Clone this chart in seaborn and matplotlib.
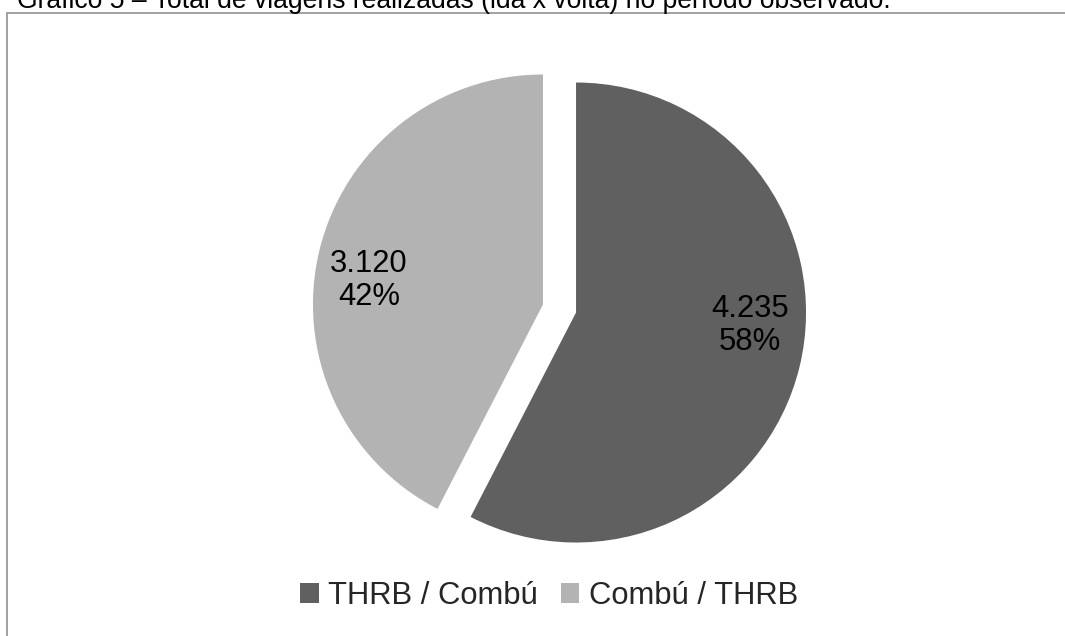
import matplotlib
matplotlib.use("Agg")
import matplotlib.pyplot as plt
from matplotlib.patches import Patch, Rectangle
import seaborn as sns

# Data
categories = ["THRB / Combú", "Combú / THRB"]
trips = [4235, 3120]
slice_colors = ["#606060", "#b3b3b3"]
title_text = "Gráfico 5 – Total de viagens realizadas (ida x volta) no período observado."

sns.set_theme(style="white")
plt.rcParams["font.family"] = ["Liberation Sans", "DejaVu Sans"]

W, H = 1065, 636
fig = plt.figure(figsize=(W / 100, H / 100), dpi=100)
fig.patch.set_facecolor("white")

# Chart frame (open towards the right and bottom edges)
frame = Rectangle((7 / W, -0.2), 1.2, (H - 13) / H + 0.2, transform=fig.transFigure,
                  fill=False, edgecolor="#9a9a9a", linewidth=1.3, zorder=0)
fig.patches.append(frame)

# Caption above the frame
fig.text(17 / W, (H - 8.5) / H, title_text, fontsize=19.1, color="black",
         ha="left", va="baseline")

# Pie axes: radius 1 maps to 230 px, centred at (559.5, 308.5)
R = 230
cx, cy = 559.5, H - 308.5
s = 1.4
ax = fig.add_axes([(cx - R * s) / W, (cy - R * s) / H, 2 * R * s / W, 2 * R * s / H])

palette = sns.color_palette(slice_colors)
wedges, _ = ax.pie(trips, colors=palette, startangle=90, counterclock=False,
                   explode=[0.074, 0.074], radius=1.0,
                   wedgeprops=dict(linewidth=0))
ax.set_xlim(-s, s)
ax.set_ylim(-s, s)
ax.set_aspect("equal")
ax.axis("off")

total = sum(trips)
label_offsets = [(0.757, -0.057), (-0.757, 0.104)]
for w, v, (dx, dy) in zip(wedges, trips, label_offsets):
    x0, y0 = w.center
    txt = f"{v:,}".replace(",", ".") + f"\n{round(100 * v / total)}%"
    ax.text(x0 + dx, y0 + dy, txt, ha="center", va="center", fontsize=22.3,
            color="black", linespacing=1.1)

handles = [Patch(facecolor=c, edgecolor="none") for c in palette]
fig.legend(handles, categories, loc="center", bbox_to_anchor=(549 / W, (H - 596) / H),
           ncol=2, frameon=False, fontsize=22.3, handlelength=0.6, handleheight=0.6,
           handletextpad=0.3, columnspacing=0.75, borderpad=0)

fig.savefig("out.png", dpi=100, facecolor="white")
